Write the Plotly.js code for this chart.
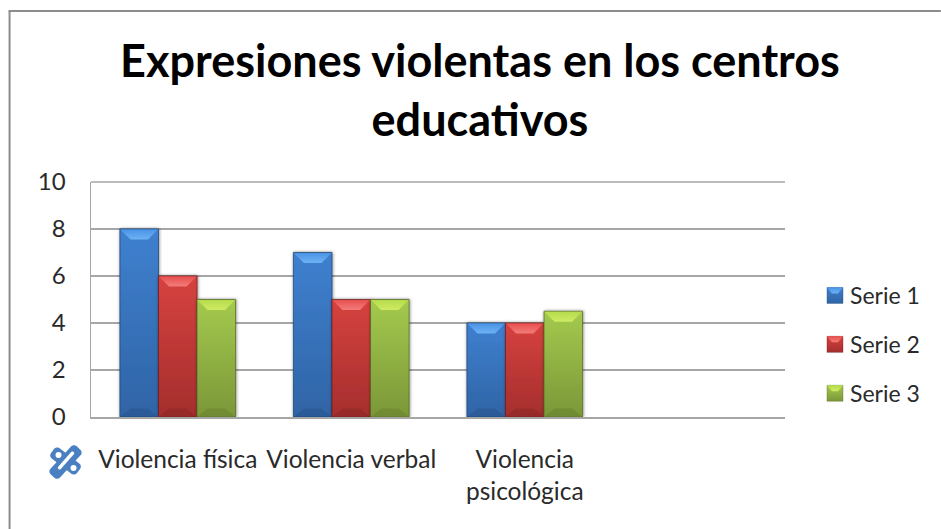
<!DOCTYPE html>
<html><head><meta charset="utf-8">
<script src="https://cdn.plot.ly/plotly-3.0.1.min.js"></script>
<style>html,body{margin:0;padding:0;background:#fff}#c{width:941px;height:529px}</style>
</head><body><div id="c"></div>
<script>
const positions=[0,1,2];
const categories=['Violencia física','Violencia verbal','Violencia<br>psicológica'];
const serie1=[8,7,4];
const serie2=[6,5,4];
const serie3=[5,5,4.5];
const seriesNames=['Serie 1','Serie 2','Serie 3'];
const baseColors=['#3d7cc9','#cf3f3d','#99bd4a'];
const bodyTop=['#3f80cf','#d6423f','#a4ca4e'];
const bodyBottom=['#2f64a6','#a52e2d','#7b9738'];
const bevelTop=['#4a94e6','#e8504e','#b5dc4c'];
const bevelLow=['#6db2f4','#f27c7a','#cfea62'];
const edge=['#1f4573','#6f1f1e','#546a24'];
const font='Lato, Carlito, "Noto Sans", sans-serif';
const W=941,H=529,L=90.5,R=156,T=182,B=112;
const PW=W-L-R,PH=H-T-B;
const px=x=>(x-L)/PW, py=y=>(H-B-y)/PH;
const traces=[serie1,serie2,serie3].map((v,i)=>({type:'bar',x:positions,y:v,name:seriesNames[i],legendgroup:'g'+i,marker:{color:baseColors[i],line:{width:0}},hoverinfo:'skip'}));
function band(x0,y0,x1,y1,w,r){
 const a=Math.atan2(y1-y0,x1-x0),n=6,pts=[];
 const hw=w/2,len=Math.hypot(x1-x0,y1-y0)/2,cx=(x0+x1)/2,cy=(y0+y1)/2;
 [[1,1,0],[-1,1,1],[-1,-1,2],[1,-1,3]].forEach(([sx,sy,q])=>{
  for(let k=0;k<=n;k++){const t=q*Math.PI/2+k/n*Math.PI/2;
   const u=sx*(len-r)+r*Math.cos(t),v=sy*(hw-r)+r*Math.sin(t);
   pts.push([cx+u*Math.cos(a)-v*Math.sin(a),cy+u*Math.sin(a)+v*Math.cos(a)]);}
 });
 return 'M'+pts.map(p=>px(p[0]).toFixed(5)+','+py(p[1]).toFixed(5)).join('L')+'Z';
}
const iconBlue='#4a80c2';
const pathShape=(d,c)=>({type:'path',xref:'paper',yref:'paper',path:d,fillcolor:c,line:{width:0}});
const layout={
 width:W,height:H,margin:{l:L,r:R,t:T,b:B},paper_bgcolor:'#fff',plot_bgcolor:'#fff',
 title:{text:'Expresiones violentas en los centros<br>educativos',font:{family:font,size:45,color:'#000',weight:700},x:480/W,xanchor:'center',y:1-77/H,yanchor:'middle',xref:'container',yref:'container'},
 barmode:'group',bargap:1/3,bargroupgap:0,
 xaxis:{range:[-0.5,3.5],tickmode:'array',tickvals:positions,ticktext:categories,tickangle:0,showgrid:false,zeroline:false,showline:true,linecolor:'#a6a6a6',linewidth:1.5,ticks:'',tickfont:{family:font,size:24.5,color:'#2a2a2a'},ticklabelstandoff:20},
 yaxis:{range:[0,10],tickmode:'array',tickvals:[0,2,4,6,8,10],showgrid:true,gridcolor:'#a6a6a6',gridwidth:1.5,zeroline:false,showline:true,linecolor:'#a6a6a6',linewidth:1.5,ticks:'',tickfont:{family:font,size:24,color:'#2a2a2a'},ticklabelstandoff:19},
 legend:{x:px(810),y:py(274),xanchor:'left',yanchor:'top',traceorder:'grouped',tracegroupgap:16,font:{family:font,size:23,color:'#2a2a2a'},itemwidth:30,bgcolor:'rgba(0,0,0,0)'},
 shapes:[
  {type:'line',xref:'paper',yref:'paper',x0:0,x1:1,y0:1,y1:1,line:{color:'#a6a6a6',width:1.5}},
  {type:'line',xref:'paper',yref:'paper',x0:px(9),x1:px(9),y0:py(11),y1:py(529),line:{color:'#8c8c8c',width:2}},
  {type:'line',xref:'paper',yref:'paper',x0:px(8),x1:px(941),y0:py(11),y1:py(11),line:{color:'#8c8c8c',width:2}},
  pathShape(band(52,451,78,471,13,4),iconBlue),
  pathShape(band(78,448,52,476,13,4),iconBlue),
  pathShape(band(73,452,58,469,3.5,1.5),'#fff'),
  {type:'circle',xref:'paper',yref:'paper',x0:px(55),x1:px(61),y0:py(452),y1:py(458),fillcolor:'#fff',line:{width:0}},
  {type:'circle',xref:'paper',yref:'paper',x0:px(70),x1:px(76),y0:py(465),y1:py(471),fillcolor:'#fff',line:{width:0}}
 ]
};
const NS='http://www.w3.org/2000/svg';
function grad(defs,id,stops){
 const g=document.createElementNS(NS,'linearGradient');g.setAttribute('id',id);
 g.setAttribute('x1',0);g.setAttribute('y1',0);g.setAttribute('x2',0);g.setAttribute('y2',1);
 stops.forEach(s=>{const e=document.createElementNS(NS,'stop');e.setAttribute('offset',s[0]);e.setAttribute('stop-color',s[1]);g.appendChild(e);});
 defs.appendChild(g);
}
function poly(parent,pts,fill,op){
 const p=document.createElementNS(NS,'polygon');p.setAttribute('points',pts.map(a=>a.join(',')).join(' '));
 p.style.fill=fill;if(op!=null)p.style.opacity=op;parent.appendChild(p);
}
function paint(gd){
 const svg=gd.querySelector('svg.main-svg');
 const defs=svg.querySelector('defs');
 const f=document.createElementNS(NS,'filter');f.setAttribute('id','bs');f.setAttribute('x','-20%');f.setAttribute('y','-5%');f.setAttribute('width','140%');f.setAttribute('height','110%');
 f.innerHTML='<feDropShadow dx="0.5" dy="0" stdDeviation="1.5" flood-color="#000" flood-opacity="0.5"/>';defs.appendChild(f);
 baseColors.forEach((c,i)=>{
  grad(defs,'body'+i,[[0,bodyTop[i]],[1,bodyBottom[i]]]);
  grad(defs,'bev'+i,[[0,bevelTop[i]],[1,bevelLow[i]]]);
 });
 gd.querySelectorAll('.barlayer .trace').forEach((tr,i)=>{
  tr.querySelectorAll('.point').forEach(pt=>{
   const p=pt.querySelector('path');const b=p.getBBox();
   p.style.fill=`url(#body${i})`;p.style.stroke=edge[i];p.style.strokeWidth='1px';p.style.strokeOpacity=0.75;p.setAttribute('filter','url(#bs)');
   const x0=b.x+0.5,x1=b.x+b.width-0.5,y0=b.y+0.5,y1=b.y+b.height-0.5,d=10;
   poly(pt,[[x0,y0],[x1,y0],[x1-d,y0+d],[x0+d,y0+d]],`url(#bev${i})`);
   poly(pt,[[x0,y1],[x1,y1],[x1-d,y1-d*0.8],[x0+d,y1-d*0.8]],edge[i],0.28);
  });
 });
 gd.querySelectorAll('.legend .traces').forEach((tr,i)=>{
  const p=tr.querySelector('.legendpoints path');if(!p)return;
  p.setAttribute('d','M-3,-8h16v16h-16z');
  p.style.fill=`url(#body${i})`;p.style.stroke=edge[i];p.style.strokeWidth='0.6px';p.style.strokeOpacity=0.6;
  poly(p.parentNode,[[-3,-8],[13,-8],[8,-2],[2,-2]],`url(#bev${i})`);
  const tf=p.getAttribute('transform');if(tf)p.parentNode.lastChild.setAttribute('transform',tf);
 });
}
Plotly.newPlot('c',traces,layout,{displayModeBar:false,staticPlot:true}).then(paint);
</script></body></html>
